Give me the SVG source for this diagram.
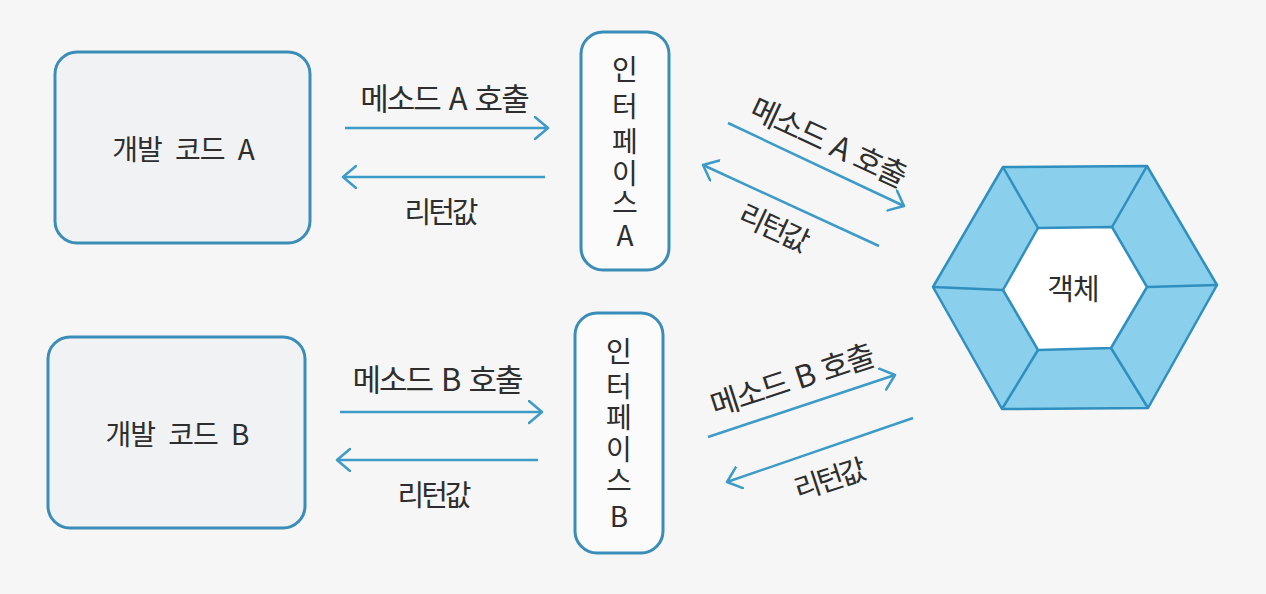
<svg xmlns="http://www.w3.org/2000/svg" width="1266" height="594" viewBox="0 0 1266 594">
<style>
text{font-family:"Noto Sans CJK KR","Noto Sans",sans-serif;fill:#2e2e2e;font-size:31px;letter-spacing:-2px;text-anchor:middle;dominant-baseline:central;word-spacing:4px}
.ret{font-size:29px;letter-spacing:-3px}
.box{font-size:28px;letter-spacing:-1px;word-spacing:8px}
.vt{font-size:28px;letter-spacing:0}
.code{fill:#f1f2f4;stroke:#3a8db6;stroke-width:3}
.ifc{fill:#fbfbfb;stroke:#3a8db6;stroke-width:3}
.arr{stroke:#3c9bc7;stroke-width:2.5;fill:none;marker-end:url(#ah)}
.hex{fill:#8acfeb;stroke:#2f8fbf;stroke-width:2.5;stroke-linejoin:round}
</style>
<defs>
<marker id="ah" markerUnits="userSpaceOnUse" markerWidth="18" markerHeight="28" refX="14" refY="12" orient="auto" viewBox="0 0 18 28">
<path d="M1,1 L14,12 L1,23" fill="none" stroke="#3c9bc7" stroke-width="2.5" stroke-linecap="round" stroke-linejoin="round"/>
</marker>
</defs>
<rect width="1266" height="594" fill="#f6f6f6"/>
<g id="code-a"><rect class="code" x="55" y="52" width="255" height="191" rx="22"/><text class="box" x="183" y="148">개발 코드 A</text></g>
<g id="code-b"><rect class="code" x="48" y="337" width="257" height="191" rx="22"/><text class="box" x="177" y="433">개발 코드 B</text></g>
<g id="interface-a"><rect class="ifc" x="581" y="32" width="88" height="238" rx="22"/>
<text class="vt" x="625" y="68">인</text><text class="vt" x="625" y="105">터</text><text class="vt" x="625" y="140">페</text><text class="vt" x="625" y="172">이</text><text class="vt" x="625" y="201">스</text><text class="vt" x="625" y="234">A</text></g>
<g id="interface-b"><rect class="ifc" x="575" y="313" width="88" height="240" rx="22"/>
<text class="vt" x="619" y="350">인</text><text class="vt" x="619" y="385">터</text><text class="vt" x="619" y="416">페</text><text class="vt" x="619" y="448">이</text><text class="vt" x="619" y="479">스</text><text class="vt" x="619" y="515">B</text></g>
<g id="object">
<polygon class="hex" points="1003,167 1147,166 1217,285 1148,408 1002,409 933,287"/>
<line class="hex" x1="1003" y1="167" x2="1038" y2="228"/>
<line class="hex" x1="1147" y1="166" x2="1112" y2="227"/>
<line class="hex" x1="1217" y1="285" x2="1147" y2="287"/>
<line class="hex" x1="1148" y1="408" x2="1111" y2="348"/>
<line class="hex" x1="1002" y1="409" x2="1038" y2="350"/>
<line class="hex" x1="933" y1="287" x2="1003" y2="290"/>
<polygon points="1038,228 1112,227 1147,287 1111,348 1038,350 1003,290" fill="#ffffff" stroke="#2f8fbf" stroke-width="2.5" stroke-linejoin="round"/>
<text x="1073" y="287" style="font-size:29px;letter-spacing:-1px">객체</text>
</g>
<g id="connectors">
<path class="arr" d="M345,128 L548,128"/>
<path class="arr" d="M545,177 L343,177"/>
<path class="arr" d="M340,412 L542,412"/>
<path class="arr" d="M538,460 L337,460"/>
<path class="arr" d="M728,123 L904,206"/>
<path class="arr" d="M879,246 L703,165"/>
<path class="arr" d="M708,437 L895,375"/>
<path class="arr" d="M913,418 L727,482"/>
</g>
<g id="labels">
<text x="444" y="96">메소드 A 호출</text>
<text class="ret" x="440" y="210">리턴값</text>
<text x="437" y="377">메소드 B 호출</text>
<text class="ret" x="433" y="493">리턴값</text>
<text x="829" y="140" transform="rotate(25 829 140)">메소드 A 호출</text>
<text class="ret" x="774" y="225" transform="rotate(25 774 225)">리턴값</text>
<text x="791" y="378" transform="rotate(-18 791 378)">메소드 B 호출</text>
<text class="ret" x="828" y="477" transform="rotate(-18 828 477)">리턴값</text>
</g>
</svg>
